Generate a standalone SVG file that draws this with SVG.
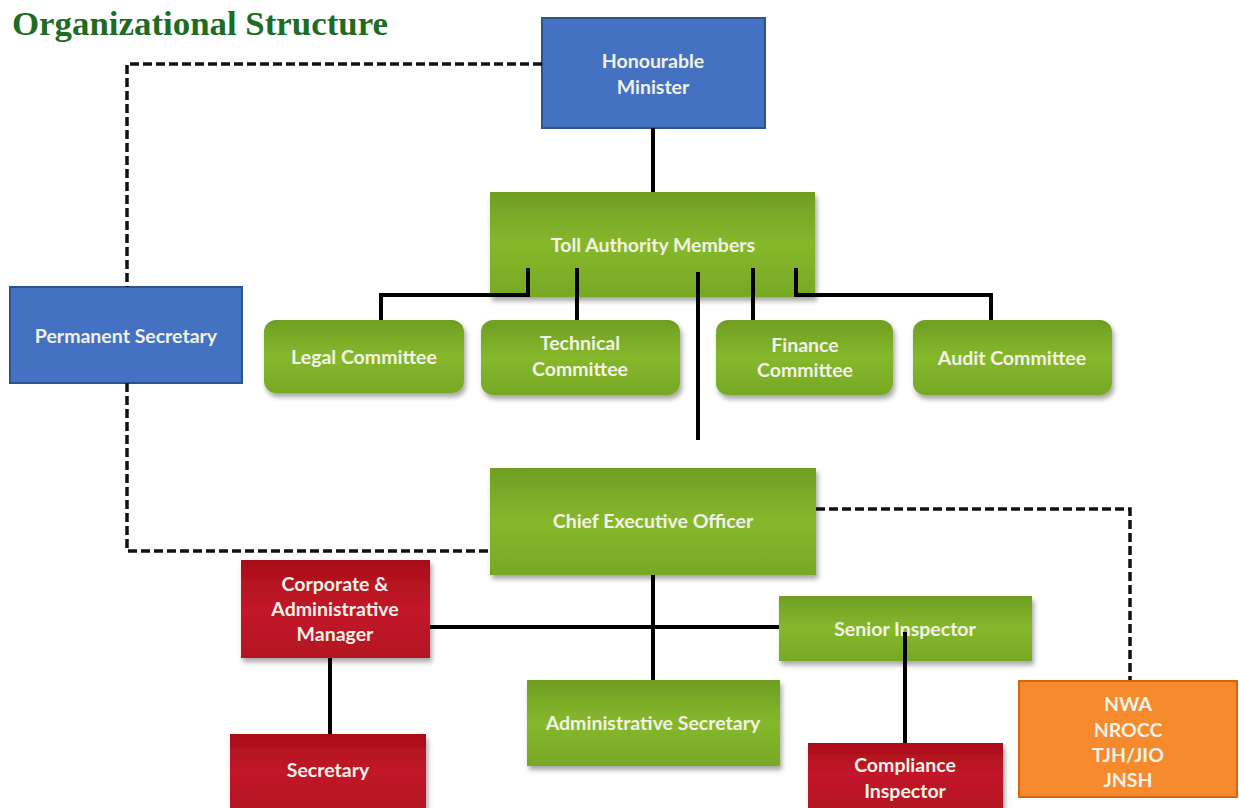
<svg xmlns="http://www.w3.org/2000/svg" width="1239" height="808" viewBox="0 0 1239 808">
<defs>
<linearGradient id="gGreen" x1="0" y1="0" x2="0" y2="1">
<stop offset="0" stop-color="#6f9e22"/>
<stop offset="0.5" stop-color="#86b82c"/>
<stop offset="1" stop-color="#77a824"/>
</linearGradient>
<linearGradient id="gRed" x1="0" y1="0" x2="0" y2="1">
<stop offset="0" stop-color="#a80d18"/>
<stop offset="0.5" stop-color="#c3192a"/>
<stop offset="1" stop-color="#b31322"/>
</linearGradient>
<filter id="sh" x="-10%" y="-10%" width="125%" height="135%">
<feDropShadow dx="2" dy="4" stdDeviation="2.5" flood-color="#000" flood-opacity="0.35"/>
</filter>
<style>
.blue{fill:#4571c2;stroke:#2d5393;stroke-width:2}
.green{fill:url(#gGreen);filter:url(#sh)}
.red{fill:url(#gRed);filter:url(#sh)}
.orange{fill:#f68a2c;stroke:#d9660f;stroke-width:2}
.t{font-family:Lato,"Open Sans","Liberation Sans",sans-serif;font-weight:bold;font-size:19.5px;fill:#f2f2e6;text-anchor:middle}
.solid{stroke:#000;stroke-width:4;fill:none}
.dash{stroke:#111;stroke-width:3.5;fill:none;stroke-dasharray:9 4}
</style>
</defs>
<rect width="1239" height="808" fill="#fff"/>
<text x="12" y="35" font-family="Liberation Serif,serif" font-weight="bold" font-size="33" fill="#1e6b23" textLength="376" lengthAdjust="spacingAndGlyphs">Organizational Structure</text>

<g id="minister">
<rect class="blue" x="542" y="18" width="223" height="110"/>
<text class="t" x="653" y="68">Honourable</text>
<text class="t" x="653" y="94">Minister</text>
</g>
<g id="toll">
<rect class="green" x="490" y="192" width="325" height="105"/>
<text class="t" x="653" y="252">Toll Authority Members</text>
</g>
<g id="permsec">
<rect class="blue" x="10" y="287" width="232" height="96"/>
<text class="t" x="126" y="343">Permanent Secretary</text>
</g>
<g id="legal">
<rect class="green" x="264" y="320" width="200" height="73" rx="12"/>
<text class="t" x="364" y="364">Legal Committee</text>
</g>
<g id="technical">
<rect class="green" x="481" y="320" width="199" height="75" rx="12"/>
<text class="t" x="580" y="350">Technical</text>
<text class="t" x="580" y="376">Committee</text>
</g>
<g id="finance">
<rect class="green" x="716" y="320" width="177" height="75" rx="12"/>
<text class="t" x="805" y="352">Finance</text>
<text class="t" x="805" y="377">Committee</text>
</g>
<g id="audit">
<rect class="green" x="913" y="320" width="199" height="75" rx="12"/>
<text class="t" x="1012" y="365">Audit Committee</text>
</g>
<g id="ceo">
<rect class="green" x="490" y="468" width="326" height="107"/>
<text class="t" x="653" y="528">Chief Executive Officer</text>
</g>
<g id="corporate">
<rect class="red" x="241" y="560" width="189" height="98"/>
<text class="t" x="335" y="591">Corporate &amp;</text>
<text class="t" x="335" y="616">Administrative</text>
<text class="t" x="335" y="641">Manager</text>
</g>
<g id="seniorinspector">
<rect class="green" x="779" y="596" width="253" height="65"/>
<text class="t" x="905" y="636">Senior Inspector</text>
</g>
<g id="secretary">
<rect class="red" x="230" y="734" width="196" height="74"/>
<text class="t" x="328" y="777">Secretary</text>
</g>
<g id="adminsec">
<rect class="green" x="527" y="680" width="253" height="86"/>
<text class="t" x="653" y="730">Administrative Secretary</text>
</g>
<g id="compliance">
<rect class="red" x="808" y="743" width="195" height="65"/>
<text class="t" x="905" y="772">Compliance</text>
<text class="t" x="905" y="798">Inspector</text>
</g>
<g id="agencies">
<rect class="orange" x="1019" y="681" width="218" height="116"/>
<text class="t" x="1128" y="711">NWA</text>
<text class="t" x="1128" y="737">NROCC</text>
<text class="t" x="1128" y="762">TJH/JIO</text>
<text class="t" x="1128" y="787">JNSH</text>
</g>

<g id="connectors">
<path class="dash" d="M542 64 H127 V287"/>
<path class="dash" d="M127 383 V551 H490"/>
<path class="dash" d="M816 509 H1130 V680"/>
<path class="solid" d="M653 128 V192"/>
<path class="solid" d="M528 268 V295 H381 V320"/>
<path class="solid" d="M577 268 V320"/>
<path class="solid" d="M698 272 V440"/>
<path class="solid" d="M753 268 V320"/>
<path class="solid" d="M796 268 V295 H991 V320"/>
<path class="solid" d="M653 575 V680"/>
<path class="solid" d="M430 627 H779"/>
<path class="solid" d="M330 658 V734"/>
<path class="solid" d="M905 632 V743"/>
</g>
</svg>
